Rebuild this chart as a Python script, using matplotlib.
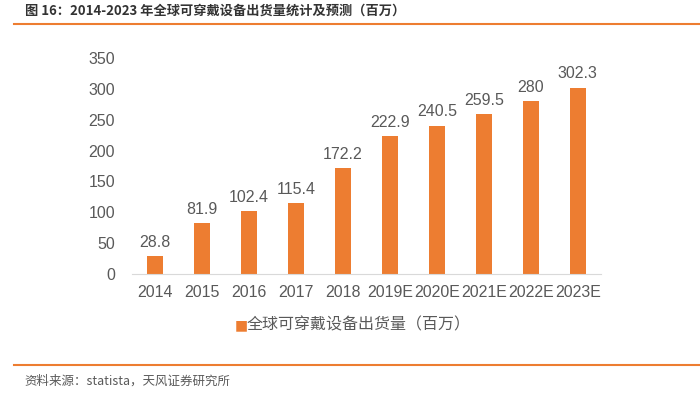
import numpy as np
import matplotlib
matplotlib.use('Agg')
from matplotlib import pyplot as plt

plt.rcParams['font.family'] = ['Liberation Sans', 'Noto Sans CJK SC', 'DejaVu Sans']

years = ['2014', '2015', '2016', '2017', '2018', '2019E', '2020E', '2021E', '2022E', '2023E']
shipments = [28.8, 81.9, 102.4, 115.4, 172.2, 222.9, 240.5, 259.5, 280, 302.3]
labels = ['28.8', '81.9', '102.4', '115.4', '172.2', '222.9', '240.5', '259.5', '280', '302.3']

orange = '#ED7D31'
grey = '#595959'

fig = plt.figure(figsize=(7, 3.94), dpi=100)

# title and rules
fig.text(0.035, 0.972, '图 16：2014-2023 年全球可穿戴设备出货量统计及预测（百万）',
         fontsize=9.5, fontweight='bold', color='#333333', va='center',
         family=['Noto Sans CJK SC', 'DejaVu Sans'])
fig.add_artist(plt.Line2D([0.02, 1.0], [0.94, 0.94], color=orange, lw=1.5))
fig.add_artist(plt.Line2D([0.02, 1.0], [0.074, 0.074], color=orange, lw=1.5))
fig.text(0.035, 0.033, '资料来源：statista，天风证券研究所', fontsize=9, color=grey, va='center',
         family=['Noto Sans CJK SC', 'DejaVu Sans'])

ax = fig.add_axes([0.188, 0.3046, 0.671, 0.548])
x = np.arange(len(years))
ax.bar(x, shipments, width=0.34, color=orange)
for xi, v, s in zip(x, shipments, labels):
    ax.text(xi, v + 10, s, ha='center', va='bottom', fontsize=11.5, color=grey)

ax.set_xlim(-0.5, len(years) - 0.5)
ax.set_ylim(0, 350)
ax.set_yticks(range(0, 351, 50))
ax.set_xticks(x)
ax.set_xticklabels(years)
ax.tick_params(axis='both', length=0, labelsize=11.5, labelcolor=grey)
ax.tick_params(axis='x', pad=8)
ax.tick_params(axis='y', pad=12)
for side in ['top', 'right', 'left']:
    ax.spines[side].set_visible(False)
ax.spines['bottom'].set_color('#d9d9d9')

# legend
fig.text(0.335, 0.175, '■', color=orange, fontsize=10, va='center', family=['DejaVu Sans'])
fig.text(0.352, 0.175, '全球可穿戴设备出货量（百万）', color=grey, fontsize=11.5, va='center',
         family=['Noto Sans CJK SC', 'DejaVu Sans'])

fig.savefig('out.png', dpi=100)
